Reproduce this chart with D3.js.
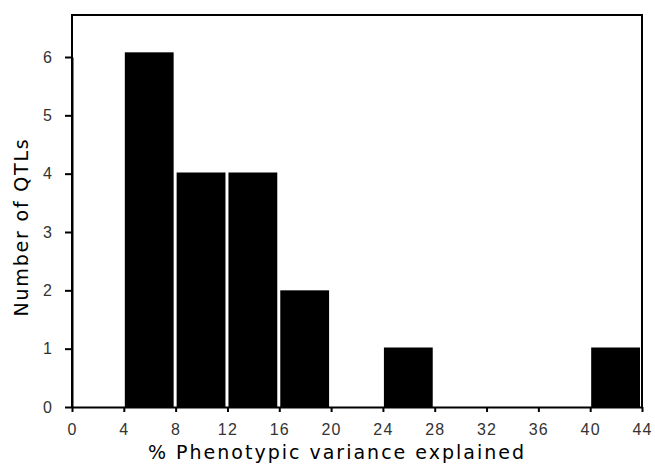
<!DOCTYPE html>
<html>
<head>
<meta charset="utf-8">
<script src="https://cdn.jsdelivr.net/npm/d3@7"></script>
<style>
body { margin: 0; background: #fff; }
svg text { font-family: "DejaVu Sans", sans-serif; }
</style>
</head>
<body>
<div id="chart"></div>
<script>
// bins of % phenotypic variance and QTL counts
let binStart = [4, 8, 12, 16, 24, 40];
let binEnd = [8, 12, 16, 20, 28, 44];
let counts = [6.08, 4.02, 4.02, 2, 1.02, 1.02];
let xTicks = [0, 4, 8, 12, 16, 20, 24, 28, 32, 36, 40, 44];
let yTicks = [0, 1, 2, 3, 4, 5, 6];

let width = 655, height = 467;
let svg = d3.select("#chart").append("svg").attr("width", width).attr("height", height);

let x = d3.scaleLinear().domain([0, 44]).range([72, 642]);
let y = d3.scaleLinear().domain([0, 6]).range([407, 57]);

let bars = binStart.map((d, i) => ({a: d, b: binEnd[i], n: counts[i]}));

svg.selectAll("rect.bar").data(bars).enter().append("rect")
  .attr("class", "bar")
  .attr("x", d => x(d.a) + 1)
  .attr("width", d => x(d.b) - x(d.a) - 3)
  .attr("y", d => y(d.n))
  .attr("height", d => y(0) - y(d.n))
  .attr("fill", "#000");

// frame
svg.append("path")
  .attr("d", "M" + x(0) + "," + y(0) + "V15H" + x(44) + "V" + y(0))
  .attr("fill", "none").attr("stroke", "#000").attr("stroke-width", 2);

// axes
let xAxis = d3.axisBottom(x).tickValues(xTicks).tickFormat(d3.format("d")).tickSize(5).tickPadding(12).tickSizeOuter(0);
let yAxis = d3.axisLeft(y).tickValues(yTicks).tickFormat(d3.format("d")).tickSize(7).tickPadding(12).tickSizeOuter(0);

let gx = svg.append("g").attr("transform", "translate(0," + y(0) + ")").call(xAxis);
let gy = svg.append("g").attr("transform", "translate(" + x(0) + ",0)").call(yAxis);
[gx, gy].forEach(g => {
  g.select(".domain").attr("stroke", "#000").attr("stroke-width", 2);
  g.selectAll(".tick line").attr("stroke", "#000").attr("stroke-width", 2);
  g.selectAll(".tick text").attr("font-size", 16).attr("fill", "#333")
    .style("font-family", "'Liberation Sans', sans-serif").attr("letter-spacing", 1.2);
});

svg.append("text")
  .attr("x", 337).attr("y", 459)
  .attr("text-anchor", "middle")
  .attr("font-size", 19)
  .attr("letter-spacing", 2)
  .text("% Phenotypic variance explained");

svg.append("text")
  .attr("transform", "translate(28,227) rotate(-90)")
  .attr("text-anchor", "middle")
  .attr("font-size", 19)
  .attr("letter-spacing", 1.8)
  .text("Number of QTLs");
</script>
</body>
</html>
